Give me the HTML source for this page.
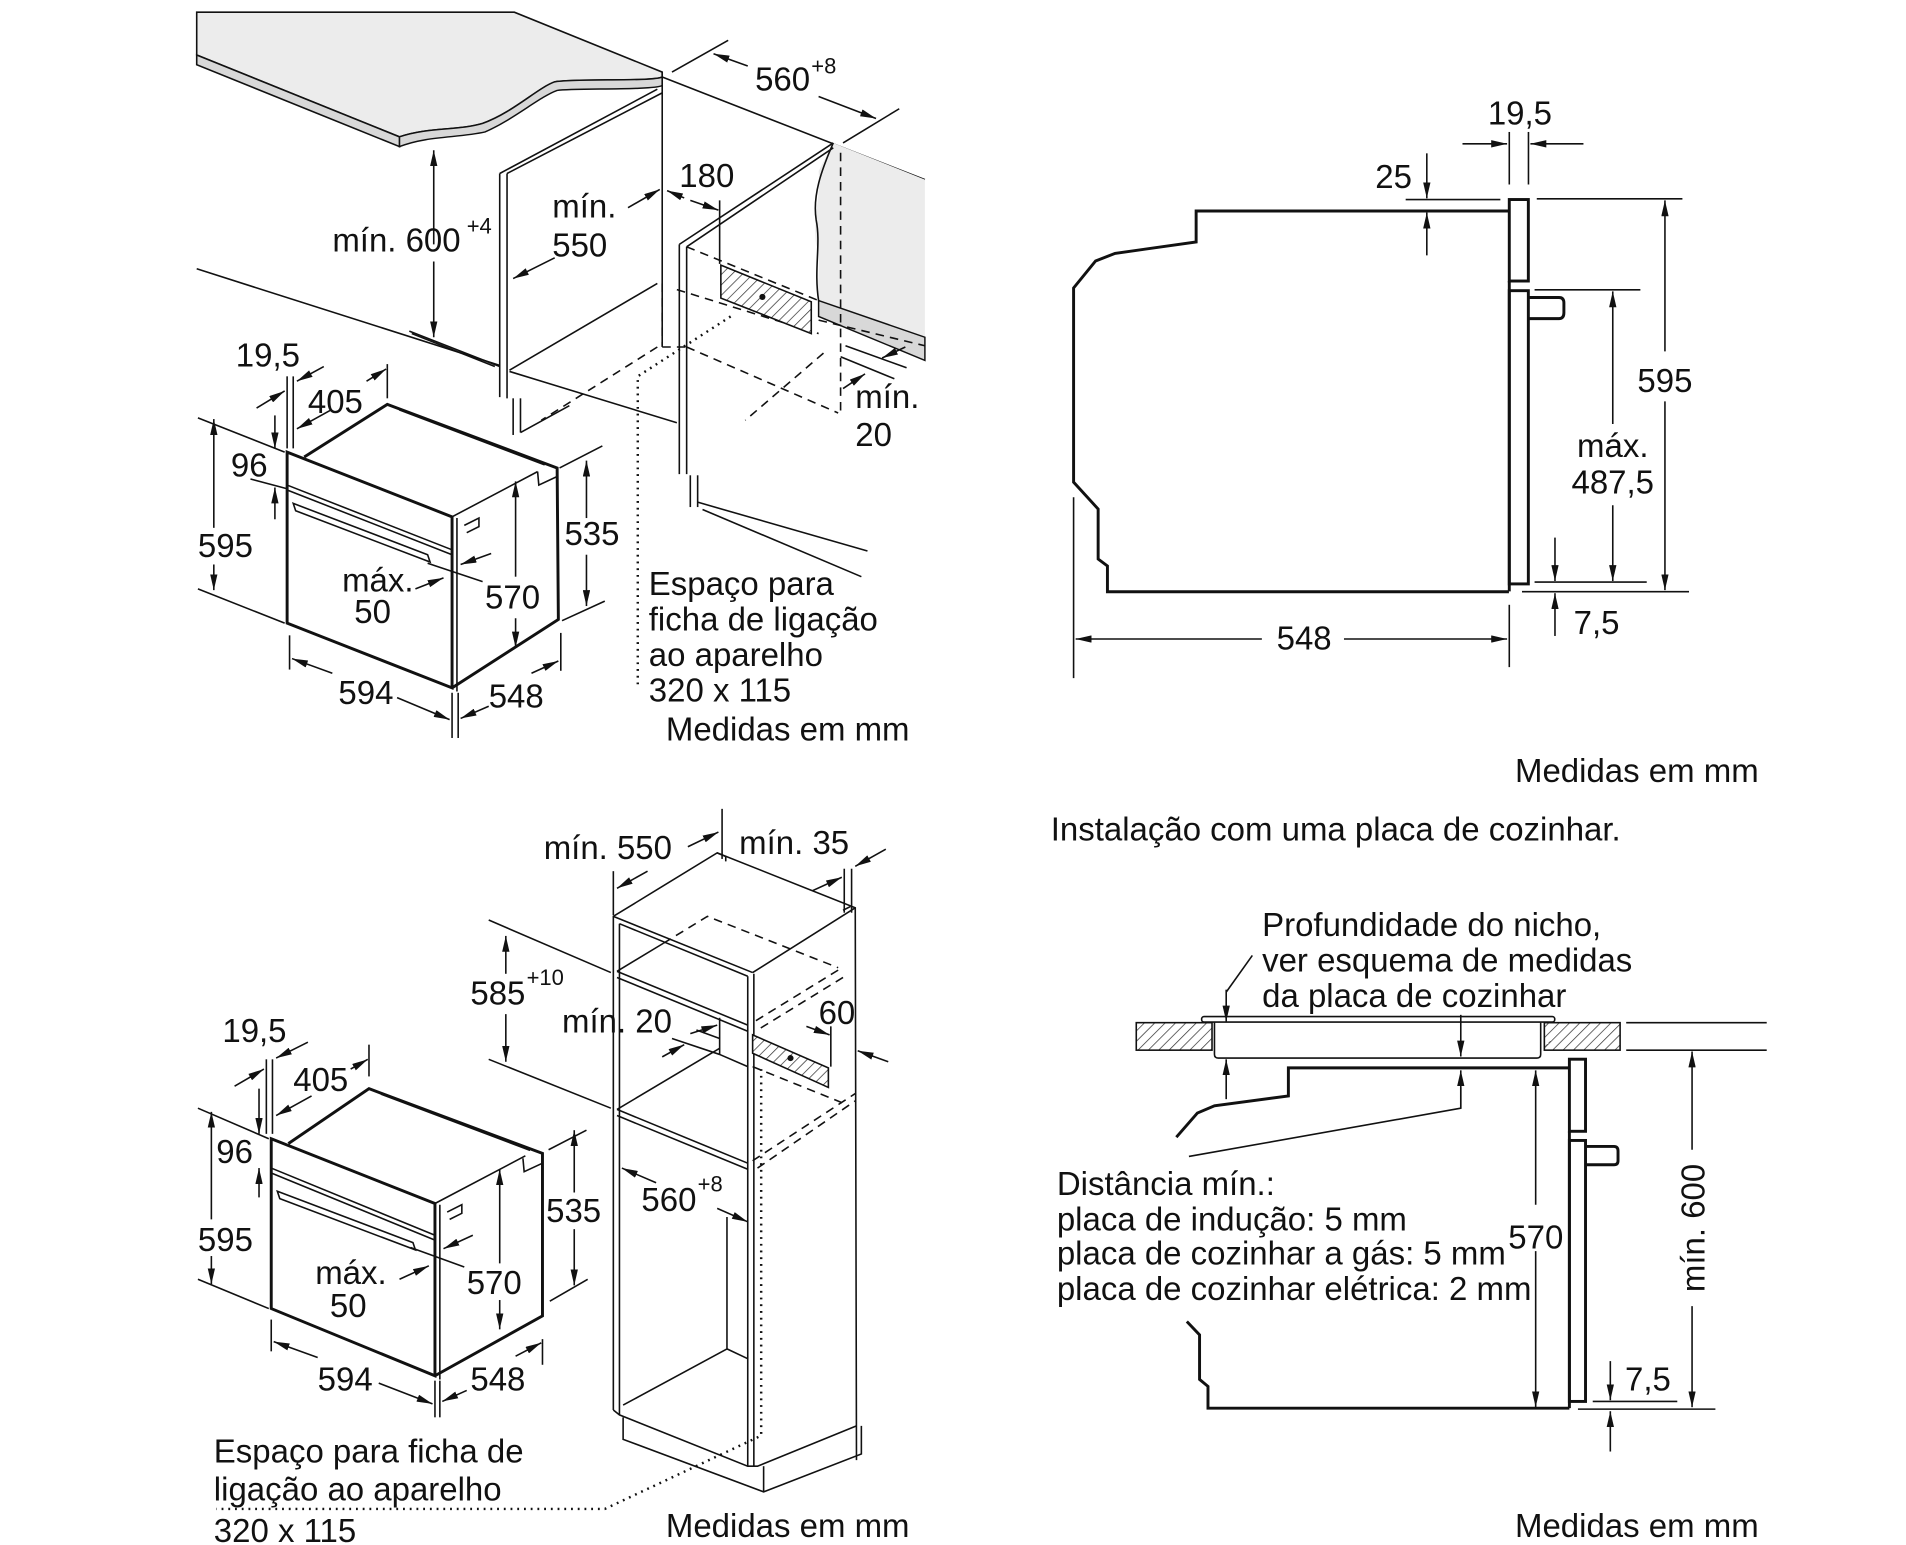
<!DOCTYPE html>
<html><head><meta charset="utf-8"><style>
html,body{margin:0;padding:0;background:#fff}
svg{display:block}
text{font-family:"Liberation Sans",Arial,sans-serif;font-size:27px;fill:#111}
.l{stroke:#111;stroke-width:1.3;fill:none}
.t{stroke:#111;stroke-width:2.4;fill:none}
.a{stroke:#111;stroke-width:1.3;fill:none;marker-end:url(#ar)}
.d{stroke:#111;stroke-width:1.3;fill:none;stroke-dasharray:7 5}
.o{stroke:#111;stroke-width:2;fill:none;stroke-dasharray:1.5 4}
.sup{font-size:18px}
</style></head><body>
<svg width="1906" height="1545" viewBox="0 0 1560 1264.5" preserveAspectRatio="none" xmlns="http://www.w3.org/2000/svg">
<defs>
<marker id="ar" viewBox="0 0 13 6" refX="13" refY="3" markerWidth="13" markerHeight="6" markerUnits="userSpaceOnUse" orient="auto"><path d="M0,0L13,3L0,6z" fill="#111"/></marker>
<pattern id="h" width="6" height="6" patternUnits="userSpaceOnUse" patternTransform="rotate(45)"><rect width="6" height="6" fill="#fff"/><line x1="0" y1="0" x2="0" y2="6" stroke="#333" stroke-width="1.2"/></pattern>
</defs>

<!-- ================= TOP LEFT ================= -->
<path d="M161,10 L421,10 L542,59 L542,63 C535,67 470,64 454,67 C440,72 420,92 395,101 C375,107 350,104 327,112 L161,45 Z" fill="#ececec" stroke="#111" stroke-width="1.3"/>
<path d="M161,45 L327,112 L327,120 L161,53 Z" fill="#d8d8d8" stroke="#111" stroke-width="1.3"/>
<path d="M327,112 C350,104 375,107 395,101 C420,92 440,72 454,67 C470,64 535,67 542,63 L542,70 C535,74 470,72 456,74 C442,79 420,98 397,108 C375,113 350,111 327,120 Z" fill="#d8d8d8" stroke="#111" stroke-width="1.2"/>
<line class="l" x1="542" y1="63" x2="757" y2="147"/>
<path d="M682,117 L757,147 L757,276 L670,246 C668,230 673,215 668,200 C665,180 672,160 670,140 Z" fill="#ececec" stroke="none"/>
<path d="M682,117 C672,140 665,160 668,180 C672,200 666,220 670,246" class="l"/>
<path d="M670,246 L757,276 L757,295 L670,259 Z" fill="#d8d8d8" stroke="#111" stroke-width="1.2"/>
<line class="d" x1="688" y1="125" x2="688" y2="341"/>
<line class="d" x1="670" y1="262" x2="757" y2="283"/>
<!-- left cabinet -->
<line class="l" x1="409" y1="142" x2="409" y2="325"/>
<line class="l" x1="415" y1="142" x2="415" y2="326"/>
<line class="l" x1="409" y1="142" x2="538" y2="73"/>
<line class="l" x1="415" y1="142" x2="542" y2="76"/>
<line class="l" x1="542" y1="59" x2="542" y2="283"/>
<line class="l" x1="417" y1="303" x2="538" y2="232"/>
<line class="l" x1="417" y1="304" x2="554" y2="346"/>
<line class="l" x1="161" y1="220" x2="409" y2="299"/>
<line class="l" x1="335" y1="271" x2="409" y2="300"/>
<line class="l" x1="420" y1="326" x2="420" y2="356"/>
<line class="l" x1="426" y1="326" x2="426" y2="354"/>
<line class="l" x1="426" y1="354" x2="466" y2="332"/>
<!-- right cabinet -->
<line class="l" x1="556" y1="200" x2="556" y2="388"/>
<line class="l" x1="562" y1="202" x2="562" y2="388"/>
<line class="l" x1="556" y1="200" x2="682" y2="117"/>
<line class="l" x1="562" y1="202" x2="682" y2="121"/>
<line class="l" x1="565" y1="389" x2="565" y2="415"/>
<line class="l" x1="571" y1="389" x2="571" y2="415"/>
<line class="l" x1="571" y1="411" x2="710" y2="451"/>
<line class="l" x1="575" y1="417" x2="705" y2="472"/>
<line class="d" x1="562" y1="202" x2="670" y2="246"/>
<line class="d" x1="554" y1="237" x2="670" y2="273"/>
<line class="d" x1="542" y1="232" x2="542" y2="284"/>
<line class="d" x1="562" y1="284" x2="686" y2="338"/>
<line class="d" x1="538" y1="284" x2="443" y2="344"/>
<line class="d" x1="674" y1="289" x2="610" y2="344"/>
<line class="d" x1="542" y1="284" x2="562" y2="284"/>
<polygon points="590,217 664,247 664,273 590,244" fill="url(#h)" stroke="#111" stroke-width="1.3"/>
<circle cx="624" cy="243" r="2.5" fill="#111"/>
<path class="o" d="M598,259 L522,308 L522,560"/>
<line class="l" x1="589" y1="164" x2="589" y2="216"/>
<!-- dims top-left cabinet -->
<line class="l" x1="550" y1="59" x2="596" y2="33"/>
<line class="l" x1="690" y1="117" x2="736" y2="89"/>
<line class="a" x1="612" y1="54" x2="584" y2="44"/>
<line class="a" x1="670" y1="79" x2="717" y2="97"/>
<text x="618" y="74">560</text><text class="sup" x="664" y="60">+8</text>
<line class="a" x1="355" y1="200" x2="355" y2="123"/>
<line class="a" x1="355" y1="214" x2="355" y2="276"/>
<line class="l" x1="337" y1="273" x2="405" y2="300"/>
<text x="272" y="206">mín. 600</text><text class="sup" x="382" y="191">+4</text>
<text x="452" y="178">mín.</text><text x="452" y="210">550</text>
<line class="a" x1="514" y1="170" x2="540" y2="155"/>
<line class="a" x1="454" y1="211" x2="420" y2="228"/>
<text x="556" y="153">180</text>
<line class="a" x1="560" y1="162" x2="546" y2="156"/>
<line class="a" x1="565" y1="164" x2="588" y2="172"/>
<text x="700" y="334">mín.</text><text x="700" y="365">20</text>
<line class="l" x1="692" y1="283" x2="742" y2="301"/>
<line class="l" x1="688" y1="292" x2="732" y2="310"/>
<line class="a" x1="741" y1="284" x2="722" y2="293"/>
<line class="a" x1="690" y1="318" x2="708" y2="306"/>
<!-- oven top-left -->
<path class="t" d="M235,370 L370,423 L370,563 L235,510 Z"/>
<path class="t" d="M249,374 L317,331 L456,383 L457,507 L370,563"/>
<line class="l" x1="235" y1="397" x2="370" y2="450"/>
<line class="l" x1="235" y1="401" x2="370" y2="454"/>
<line class="l" x1="374" y1="424" x2="374" y2="566"/>
<line class="l" x1="370" y1="423" x2="440" y2="386"/>
<line class="t" x1="327" y1="335" x2="446" y2="380"/>
<path class="l" d="M440,386 L441,397 L456,390"/>
<path class="l" d="M240,412 L350,454 L352,460 L242,418 Z"/>
<path class="l" d="M380,430 L392,424 L392,431 L382,436"/>
<!-- dims oven top-left -->
<text x="193" y="300">19,5</text>
<line class="l" x1="235" y1="308" x2="235" y2="367"/>
<line class="l" x1="240" y1="308" x2="240" y2="367"/>
<line class="a" x1="210" y1="334" x2="233" y2="320"/>
<line class="a" x1="265" y1="300" x2="243" y2="312"/>
<text x="252" y="338">405</text>
<line class="a" x1="270" y1="336" x2="243" y2="351"/>
<line class="l" x1="317" y1="298" x2="317" y2="326"/>
<line class="a" x1="300" y1="312" x2="316" y2="302"/>
<text x="189" y="390">96</text>
<line class="a" x1="225" y1="340" x2="225" y2="367"/>
<line class="a" x1="225" y1="425" x2="225" y2="399"/>
<line class="l" x1="205" y1="392" x2="235" y2="400"/>
<text x="162" y="456">595</text>
<line class="a" x1="175" y1="432" x2="175" y2="343"/>
<line class="a" x1="175" y1="462" x2="175" y2="483"/>
<line class="l" x1="162" y1="342" x2="233" y2="370"/>
<line class="l" x1="162" y1="482" x2="233" y2="510"/>
<text x="462" y="446">535</text>
<line class="a" x1="480" y1="424" x2="480" y2="377"/>
<line class="a" x1="480" y1="454" x2="480" y2="496"/>
<line class="l" x1="458" y1="383" x2="493" y2="365"/>
<line class="l" x1="460" y1="508" x2="495" y2="492"/>
<text x="397" y="498">570</text>
<line class="a" x1="422" y1="472" x2="422" y2="394"/>
<line class="a" x1="422" y1="506" x2="422" y2="530"/>
<text x="280" y="484">máx.</text><text x="290" y="510">50</text>
<line class="a" x1="340" y1="482" x2="363" y2="473"/>
<line class="a" x1="402" y1="453" x2="377" y2="462"/>
<line class="l" x1="350" y1="461" x2="395" y2="476"/>
<text x="277" y="576">594</text>
<line class="l" x1="237" y1="520" x2="237" y2="548"/>
<line class="l" x1="370" y1="567" x2="370" y2="604"/>
<line class="l" x1="375" y1="567" x2="375" y2="604"/>
<line class="l" x1="459" y1="518" x2="459" y2="549"/>
<line class="a" x1="272" y1="551" x2="239" y2="539"/>
<line class="a" x1="325" y1="571" x2="368" y2="589"/>
<text x="400" y="579">548</text>
<line class="a" x1="400" y1="578" x2="377" y2="588"/>
<line class="a" x1="435" y1="551" x2="457" y2="541"/>
<text x="531" y="487">Espaço para</text>
<text x="531" y="516">ficha de ligação</text>
<text x="531" y="545">ao aparelho</text>
<text x="531" y="574">320 x 115</text>
<text x="545" y="606">Medidas em mm</text>

<!-- ================= TOP RIGHT ================= -->
<path class="t" d="M1235,172.7 L979,172.7 L979,198 L912.6,207.4 L896.7,213.6 L878.7,235.7 L878.7,394.6 L898.8,416.6 L898.8,457.5 L906.4,463.2 L906.4,484.3 L1235,484.3"/>
<rect class="t" x="1235.3" y="163.3" width="15.6" height="66.7"/>
<rect class="t" x="1235.3" y="237.9" width="15.6" height="240"/>
<line class="t" x1="1235.3" y1="230" x2="1235.3" y2="484"/>
<path class="t" d="M1251,243.5 L1276,243.5 Q1280,243.5 1280,248 L1280,256 Q1280,260.8 1276,260.8 L1251,260.8"/>
<text x="1244" y="102" text-anchor="middle">19,5</text>
<line class="l" x1="1235.3" y1="108" x2="1235.3" y2="151"/>
<line class="l" x1="1251" y1="108" x2="1251" y2="151"/>
<line class="a" x1="1197" y1="117.7" x2="1233.5" y2="117.7"/>
<line class="a" x1="1296" y1="117.7" x2="1252.6" y2="117.7"/>
<text x="1155.6" y="154" text-anchor="end">25</text>
<line class="a" x1="1167.8" y1="125.5" x2="1167.8" y2="162.3"/>
<line class="a" x1="1167.8" y1="209" x2="1167.8" y2="174"/>
<line class="l" x1="1150.5" y1="163.3" x2="1228" y2="163.3"/>
<line class="l" x1="1257.8" y1="162.7" x2="1377" y2="162.7"/>
<line class="a" x1="1362.7" y1="287.6" x2="1362.7" y2="164"/>
<line class="a" x1="1362.7" y1="328.5" x2="1362.7" y2="483"/>
<text x="1362.7" y="321" text-anchor="middle">595</text>
<line class="l" x1="1256" y1="237.2" x2="1342.6" y2="237.2"/>
<line class="a" x1="1320" y1="347" x2="1320" y2="238.5"/>
<line class="a" x1="1320" y1="413.5" x2="1320" y2="475.5"/>
<text x="1320" y="374" text-anchor="middle">máx.</text>
<text x="1320" y="404" text-anchor="middle">487,5</text>
<line class="l" x1="1256" y1="476.4" x2="1347.8" y2="476.4"/>
<line class="l" x1="1245.7" y1="484.3" x2="1382.4" y2="484.3"/>
<line class="a" x1="1272.7" y1="440" x2="1272.7" y2="475.5"/>
<line class="a" x1="1272.7" y1="520.5" x2="1272.7" y2="485.5"/>
<text x="1288" y="519">7,5</text>
<line class="l" x1="878.7" y1="407" x2="878.7" y2="555"/>
<line class="l" x1="1235.3" y1="495" x2="1235.3" y2="546"/>
<line class="a" x1="1032.8" y1="523" x2="880.4" y2="523"/>
<line class="a" x1="1100" y1="523" x2="1233.5" y2="523"/>
<text x="1067.4" y="531.5" text-anchor="middle">548</text>
<text x="1240" y="640">Medidas em mm</text>
<text x="860" y="688">Instalação com uma placa de cozinhar.</text>

<!-- ================= BOTTOM RIGHT ================= -->
<text x="1033" y="766">Profundidade do nicho,</text>
<text x="1033" y="795">ver esquema de medidas</text>
<text x="1033" y="824">da placa de cozinhar</text>
<rect x="930" y="837" width="62" height="22.5" fill="url(#h)" stroke="#111" stroke-width="1.3"/>
<rect x="1264" y="837" width="62" height="22.5" fill="url(#h)" stroke="#111" stroke-width="1.3"/>
<rect x="983.5" y="832" width="289" height="4.5" rx="2" class="l" fill="#fff"/>
<path class="l" d="M994,837 L994,863 Q994,866 997,866 L1258,866 Q1261,866 1261,863 L1261,837" fill="#fff"/>
<line class="l" x1="1331" y1="837" x2="1446" y2="837"/>
<line class="l" x1="1331" y1="859.5" x2="1446" y2="859.5"/>
<path class="t" d="M1284.5,874 L1054.5,874 L1054.5,897 L994,905 L980,911 L962.8,930.7"/>
<path class="t" d="M971.4,1081.6 L981.8,1092.5 L981.8,1129 L988.7,1134.7 L988.7,1152.5 L1284.5,1152.5"/>
<rect class="t" x="1284.5" y="866.9" width="13.2" height="59"/>
<rect class="t" x="1284.5" y="933.4" width="13.2" height="213.6"/>
<line class="t" x1="1284.5" y1="926" x2="1284.5" y2="1152.5"/>
<path class="t" d="M1297.7,938.3 L1321,938.3 Q1324.3,938.3 1324.3,942 L1324.3,950 Q1324.3,953.3 1321,953.3 L1297.7,953.3"/>
<line class="l" x1="1025" y1="782" x2="1003.6" y2="812"/>
<line class="a" x1="1003.6" y1="810" x2="1003.6" y2="836"/>
<line class="a" x1="1003.6" y1="899.6" x2="1003.6" y2="867"/>
<line class="a" x1="1195.6" y1="830.6" x2="1195.6" y2="864.7"/>
<path class="l" d="M973.1,946.5 L1195.6,907 L1195.6,890"/>
<line class="a" x1="1195.6" y1="907" x2="1195.6" y2="876"/>
<line class="a" x1="1256.9" y1="986" x2="1256.9" y2="876"/>
<line class="a" x1="1256.9" y1="1024" x2="1256.9" y2="1151.7"/>
<text x="1257" y="1022" text-anchor="middle">570</text>
<line class="a" x1="1384.9" y1="941" x2="1384.9" y2="860.6"/>
<line class="a" x1="1384.9" y1="1069" x2="1384.9" y2="1151.7"/>
<text transform="translate(1395,1005) rotate(-90)" text-anchor="middle">mín. 600</text>
<line class="a" x1="1318" y1="1114" x2="1318" y2="1146"/>
<line class="a" x1="1318" y1="1188" x2="1318" y2="1155"/>
<line class="l" x1="1303.6" y1="1147" x2="1372.8" y2="1147"/>
<line class="l" x1="1291.5" y1="1153.3" x2="1404" y2="1153.3"/>
<text x="1330" y="1138">7,5</text>
<text x="865" y="978">Distância mín.:</text>
<text x="865" y="1007">placa de indução: 5 mm</text>
<text x="865" y="1035">placa de cozinhar a gás: 5 mm</text>
<text x="865" y="1064">placa de cozinhar elétrica: 2 mm</text>
<text x="1240" y="1258">Medidas em mm</text>

<!-- ================= BOTTOM LEFT ================= -->
<path class="l" d="M502,1154 L502,750 L587,698 L700,743 L701,1195"/>
<line class="l" x1="502" y1="750" x2="616" y2="796"/>
<line class="l" x1="616" y1="796" x2="700" y2="743"/>
<path class="l" d="M587,698 L594,701 L594,705"/>
<path class="l" d="M690,745 L696,742"/>
<line class="l" x1="507" y1="756" x2="507" y2="1158"/>
<line class="l" x1="507" y1="756" x2="612" y2="799"/>
<line class="l" x1="612" y1="799" x2="612" y2="1200"/>
<line class="l" x1="617" y1="797" x2="617" y2="1200"/>
<line class="l" x1="505" y1="795" x2="612" y2="839"/>
<line class="l" x1="505" y1="800" x2="612" y2="844"/>
<line class="l" x1="505" y1="795" x2="543" y2="772"/>
<line class="l" x1="505" y1="908" x2="612" y2="952"/>
<line class="l" x1="505" y1="913" x2="612" y2="957"/>
<line class="l" x1="505" y1="908" x2="589" y2="858"/>
<line class="l" x1="589" y1="833" x2="589" y2="863"/>
<line class="l" x1="589" y1="863" x2="612" y2="873"/>
<line class="l" x1="595" y1="996" x2="595" y2="1104"/>
<line class="l" x1="595" y1="1104" x2="510" y2="1150"/>
<line class="l" x1="595" y1="1104" x2="612" y2="1112"/>
<path class="l" d="M502,1154 L507,1158 L612,1200 L620,1200 L701,1167"/>
<path class="l" d="M510,1160 L510,1178 L625,1221 L705,1190 L705,1167"/>
<line class="l" x1="625" y1="1200" x2="625" y2="1221"/>
<path class="d" d="M543,772 L579,750 L686,792"/>
<line class="d" x1="686" y1="794" x2="616" y2="837"/>
<line class="d" x1="690" y1="800" x2="620" y2="843"/>
<line class="d" x1="616" y1="873" x2="693" y2="904"/>
<line class="d" x1="616" y1="950" x2="700" y2="895"/>
<line class="d" x1="620" y1="956" x2="700" y2="901"/>
<polygon points="616,847 678,874 678,890 616,862" fill="url(#h)" stroke="#111" stroke-width="1.3"/>
<circle cx="647" cy="866" r="2.5" fill="#111"/>
<path class="o" d="M623,875 L623,1175 L495,1235 L177,1235"/>
<text x="445" y="703">mín. 550</text>
<line class="l" x1="502" y1="713" x2="502" y2="749"/>
<line class="l" x1="591" y1="662" x2="591" y2="703"/>
<line class="a" x1="563" y1="693" x2="588" y2="681"/>
<line class="a" x1="530" y1="713" x2="505" y2="727"/>
<text x="605" y="699">mín. 35</text>
<line class="l" x1="691" y1="711" x2="691" y2="747"/>
<line class="l" x1="697" y1="711" x2="697" y2="747"/>
<line class="a" x1="665" y1="729" x2="689" y2="718"/>
<line class="a" x1="725" y1="695" x2="700" y2="709"/>
<text x="385" y="822">585</text><text class="sup" x="431" y="806">+10</text>
<line class="a" x1="414" y1="797" x2="414" y2="766"/>
<line class="a" x1="414" y1="830" x2="414" y2="869"/>
<line class="l" x1="400" y1="753" x2="500" y2="796"/>
<line class="l" x1="400" y1="867" x2="500" y2="907"/>
<text x="460" y="845">mín. 20</text>
<line class="a" x1="565" y1="846" x2="587" y2="839"/>
<line class="a" x1="542" y1="865" x2="560" y2="855"/>
<line class="l" x1="550" y1="850" x2="589" y2="863"/>
<line class="l" x1="570" y1="843" x2="589" y2="850"/>
<text x="670" y="838">60</text>
<line class="l" x1="680" y1="840" x2="680" y2="873"/>
<line class="a" x1="660" y1="840" x2="679" y2="847"/>
<line class="a" x1="727" y1="869" x2="702" y2="860"/>
<text x="525" y="991">560</text><text class="sup" x="571" y="975">+8</text>
<line class="a" x1="537" y1="968" x2="509" y2="956"/>
<line class="a" x1="587" y1="989" x2="612" y2="1000"/>
<path class="t" d="M222,932 L356,985 L356,1126 L222,1071 Z"/>
<path class="t" d="M236,936 L302,891 L444,944 L444,1077 L356,1126"/>
<line class="l" x1="222" y1="956" x2="356" y2="1011"/>
<line class="l" x1="222" y1="960" x2="356" y2="1015"/>
<line class="l" x1="360" y1="986" x2="360" y2="1129"/>
<line class="l" x1="356" y1="985" x2="430" y2="946"/>
<line class="t" x1="312" y1="895" x2="434" y2="941"/>
<path class="l" d="M428,948 L429,959 L444,952"/>
<path class="l" d="M227,975 L338,1017 L340,1023 L229,981 Z"/>
<path class="l" d="M366,992 L378,986 L378,993 L368,998"/>
<text x="182" y="853">19,5</text>
<line class="l" x1="218" y1="867" x2="218" y2="928"/>
<line class="l" x1="223" y1="867" x2="223" y2="928"/>
<line class="a" x1="192" y1="889" x2="216" y2="875"/>
<line class="a" x1="252" y1="853" x2="226" y2="866"/>
<text x="240" y="893">405</text>
<line class="a" x1="255" y1="897" x2="226" y2="913"/>
<line class="l" x1="302" y1="855" x2="302" y2="881"/>
<line class="a" x1="287" y1="875" x2="301" y2="867"/>
<text x="177" y="952">96</text>
<line class="a" x1="212" y1="891" x2="212" y2="928"/>
<line class="a" x1="212" y1="980" x2="212" y2="956"/>
<text x="162" y="1024">595</text>
<line class="a" x1="173" y1="998" x2="173" y2="910"/>
<line class="a" x1="173" y1="1028" x2="173" y2="1051"/>
<line class="l" x1="162" y1="907" x2="220" y2="932"/>
<line class="l" x1="162" y1="1047" x2="220" y2="1071"/>
<text x="447" y="1000">535</text>
<line class="a" x1="470" y1="976" x2="470" y2="925"/>
<line class="a" x1="470" y1="1006" x2="470" y2="1052"/>
<line class="l" x1="449" y1="941" x2="480" y2="925"/>
<line class="l" x1="450" y1="1065" x2="481" y2="1047"/>
<text x="382" y="1059">570</text>
<line class="a" x1="409" y1="1034" x2="409" y2="957"/>
<line class="a" x1="409" y1="1064" x2="409" y2="1088"/>
<text x="258" y="1051">máx.</text><text x="270" y="1078">50</text>
<line class="a" x1="327" y1="1047" x2="351" y2="1036"/>
<line class="a" x1="387" y1="1011" x2="363" y2="1022"/>
<line class="l" x1="336" y1="1021" x2="380" y2="1037"/>
<text x="260" y="1138">594</text>
<line class="l" x1="222" y1="1080" x2="222" y2="1106"/>
<line class="l" x1="356" y1="1130" x2="356" y2="1160"/>
<line class="l" x1="360" y1="1130" x2="360" y2="1160"/>
<line class="l" x1="444" y1="1096" x2="444" y2="1117"/>
<line class="a" x1="260" y1="1111" x2="224" y2="1098"/>
<line class="a" x1="310" y1="1132" x2="354" y2="1149"/>
<text x="385" y="1138">548</text>
<line class="a" x1="382" y1="1138" x2="362" y2="1147"/>
<line class="a" x1="422" y1="1110" x2="443" y2="1099"/>
<text x="175" y="1197">Espaço para ficha de</text>
<text x="175" y="1228">ligação ao aparelho</text>
<text x="175" y="1262">320 x 115</text>
<text x="545" y="1258">Medidas em mm</text>
</svg>
</body></html>
